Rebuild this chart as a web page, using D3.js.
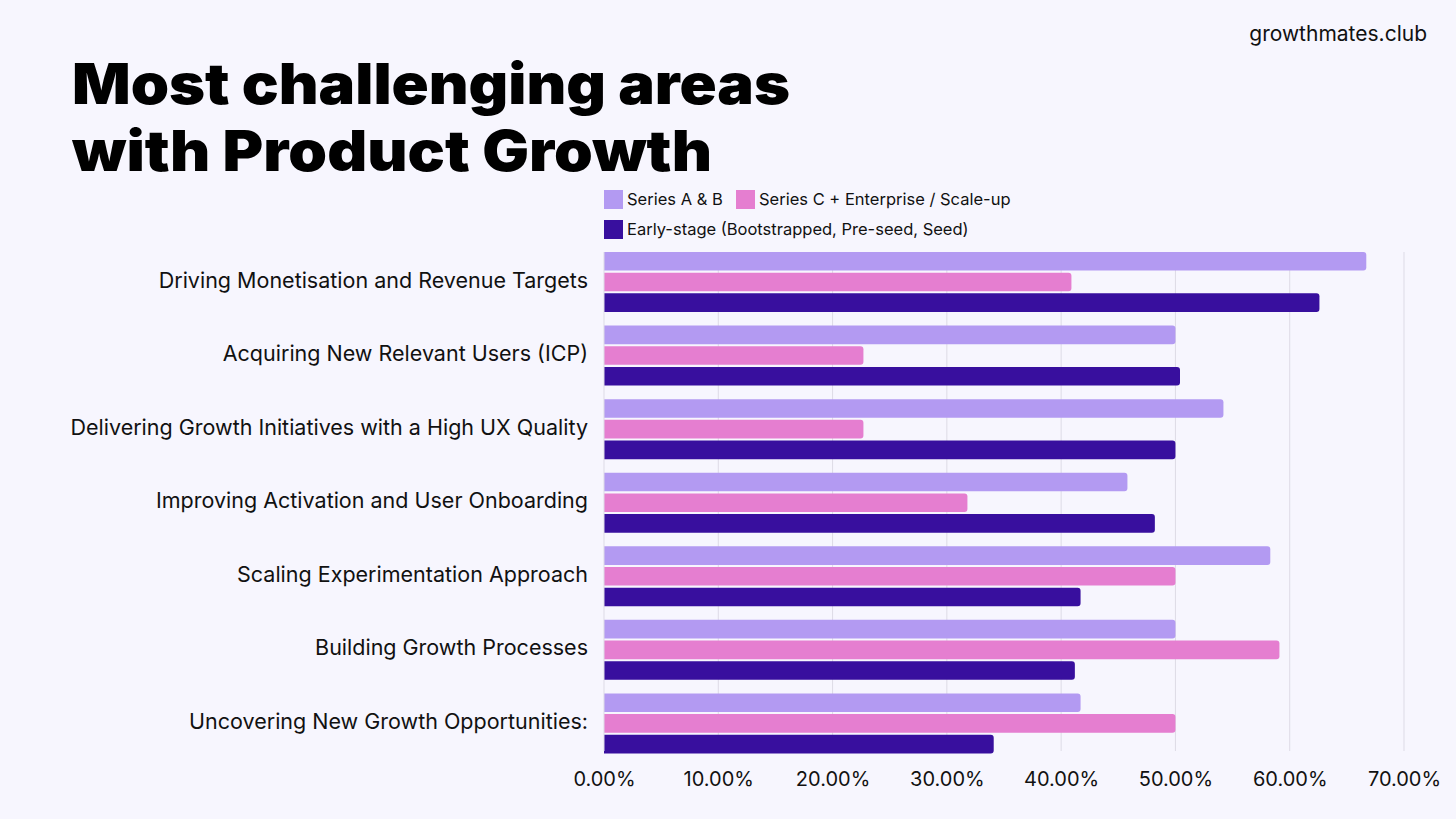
<!DOCTYPE html>
<html><head><meta charset="utf-8">
<script src="https://cdn.jsdelivr.net/npm/d3@7"></script>
<style>
html,body{margin:0;padding:0;background:#F7F6FE;}
svg{display:block;}
</style></head>
<body>
<svg id="c" width="1456" height="819"></svg>
<script>
const categories = [
  "Driving Monetisation and Revenue Targets",
  "Acquiring New Relevant Users (ICP)",
  "Delivering Growth Initiatives with a High UX Quality",
  "Improving Activation and User Onboarding",
  "Scaling Experimentation Approach",
  "Building Growth Processes",
  "Uncovering New Growth Opportunities:"
];
const seriesNames = ["Series A & B", "Series C + Enterprise / Scale-up", "Early-stage (Bootstrapped, Pre-seed, Seed)"];
const seriesAB = [66.7, 50.0, 54.2, 45.8, 58.3, 50.0, 41.7];
const seriesC = [40.9, 22.7, 22.7, 31.8, 50.0, 59.1, 50.0];
const earlyStage = [62.6, 50.4, 50.0, 48.2, 41.7, 41.2, 34.1];
const xTicks = [0, 10, 20, 30, 40, 50, 60, 70];
const colors = ["#B39AF2", "#E57ED0", "#380F9E"];

const svg = d3.select("#c");
const font = "Inter, 'Noto Sans', sans-serif";
svg.append("rect").attr("width",1456).attr("height",819).attr("fill","#F7F6FE");

// title
svg.append("text").attr("x",72).attr("y",104).text("Most challenging areas")
  .attr("font-family",font).attr("font-weight",900).attr("font-size",56)
  .attr("textLength",718).attr("lengthAdjust","spacingAndGlyphs").attr("fill","#000");
svg.append("text").attr("x",72).attr("y",171).text("with Product Growth")
  .attr("font-family",font).attr("font-weight",900).attr("font-size",56)
  .attr("textLength",640).attr("lengthAdjust","spacingAndGlyphs").attr("fill","#000");
svg.append("text").attr("x",1427).attr("y",41).attr("text-anchor","end").text("growthmates.club")
  .attr("font-family",font).attr("font-size",21).attr("fill","#111");

const x = d3.scaleLinear().domain([0,70]).range([604,1404]);
const y = d3.scaleBand().domain(categories).range([245.2,760.2]);
const inner = d3.scaleBand().domain([0,1,2]).range([0,60]).paddingInner(0.1);

// grid
svg.append("g").selectAll("line").data(xTicks.slice(1)).join("line")
  .attr("x1",d=>x(d)).attr("x2",d=>x(d)).attr("y1",252).attr("y2",751)
  .attr("stroke","#DDDBE6").attr("stroke-width",1);

// bars
const data = [seriesAB, seriesC, earlyStage];
const offset = (y.bandwidth()-60)/2;
categories.forEach((cat,i)=>{
  data.forEach((arr,s)=>{
    const y0 = y(cat)+offset+inner(s);
    const w = x(arr[i])-x(0);
    const h = inner.bandwidth();
    const r = 3;
    const p = `M${x(0)},${y0} h${w-r} a${r},${r} 0 0 1 ${r},${r} v${h-2*r} a${r},${r} 0 0 1 ${-r},${r} h${-(w-r)} Z`;
    svg.append("path").attr("d",p).attr("fill",colors[s]);
  });
});

// y axis line
svg.append("line").attr("x1",604).attr("x2",604).attr("y1",252).attr("y2",751).attr("stroke","#DDDBE6");

// category labels
svg.append("g").selectAll("text").data(categories).join("text")
  .attr("x",588).attr("y",d=>y(d)+y.bandwidth()/2-2).attr("dy","0.35em")
  .attr("text-anchor","end").text(d=>d)
  .attr("font-family",font).attr("font-size",21.5).attr("fill","#111");

// x axis
const xAxis = d3.axisBottom(x).tickValues(xTicks).tickFormat(d=>d.toFixed(2)+"%").tickSize(0).tickPadding(12);
const gx = svg.append("g").attr("transform","translate(0,760)").call(xAxis);
gx.select(".domain").remove();
gx.selectAll("text").attr("font-family",font).attr("font-size",20).attr("fill","#111");

// legend
const legendPos = [[604,190],[736,190],[604,220]];
seriesNames.forEach((n,i)=>{
  const [lx,ly] = legendPos[i];
  svg.append("rect").attr("x",lx).attr("y",ly).attr("width",19).attr("height",19).attr("fill",colors[i]);
  svg.append("text").attr("x",lx+23).attr("y",ly+9.5).attr("dy","0.35em").text(n)
    .attr("font-family",font).attr("font-size",16.5).attr("fill","#111");
});
</script>
</body></html>
